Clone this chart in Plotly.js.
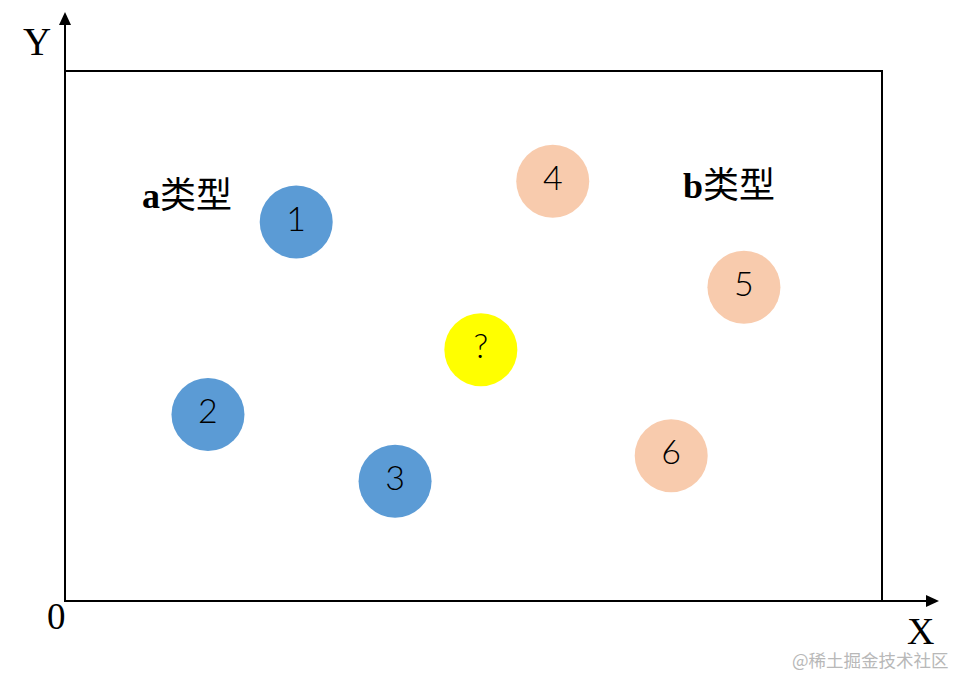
<!DOCTYPE html>
<html>
<head>
<meta charset="utf-8">
<script src="https://cdn.plot.ly/plotly-3.0.1.min.js"></script>
<style>html,body{margin:0;padding:0;background:#fff;}#chart{width:956px;height:676px;}</style>
</head>
<body>
<div id="chart"></div>
<script>
// Data (x, y on a 0-100 scale inside the frame)
var labelsA = ["1", "2", "3"];
var xA = [28.3, 17.5, 40.4];
var yA = [71.5, 35.2, 22.6];

var labelsB = ["4", "5", "6"];
var xB = [59.7, 83.1, 74.2];
var yB = [79.2, 59.2, 27.4];

var labelsQ = ["?"];
var xQ = [50.9];
var yQ = [47.4];

var groupNames = ["a类型", "b类型"];
var groupX = [14.9, 81.3];
var groupY = [76.4, 78.3];

var markerSize = 73;
var numFont = {family: "Lato, Liberation Sans, Arial, sans-serif", size: 34, color: "#000", weight: 300};

function scatter(x, y, t, color) {
  return {
    type: "scatter", mode: "markers+text", x: x, y: y, text: t,
    textposition: "middle center", textfont: numFont,
    marker: {size: markerSize, color: color, line: {width: 0}},
    hoverinfo: "skip", showlegend: false, cliponaxis: false
  };
}

var traces = [
  scatter(xA, yA, labelsA, "#5B9BD5"),
  scatter(xB, yB, labelsB, "#F8CBAD"),
  scatter(xQ, yQ, labelsQ, "#FFFF00")
];

function px2x(p) { return (p - 65) / 817; }
function py2y(p) { return (601 - p) / 530; }

var shapes = [
  {type: "rect", xref: "paper", yref: "paper", x0: 0, y0: 0, x1: 1, y1: 1, line: {color: "#000", width: 2}},
  {type: "line", xref: "paper", yref: "paper", x0: 0, y0: 0, x1: 0, y1: py2y(25), line: {color: "#000", width: 2}},
  {type: "line", xref: "paper", yref: "paper", x0: 0, y0: 0, x1: px2x(926), y1: 0, line: {color: "#000", width: 2}},
  {type: "path", xref: "paper", yref: "paper",
   path: "M " + px2x(59) + " " + py2y(25) + " L " + px2x(71) + " " + py2y(25) + " L " + px2x(65) + " " + py2y(12) + " Z",
   fillcolor: "#000", line: {width: 0}},
  {type: "path", xref: "paper", yref: "paper",
   path: "M " + px2x(926) + " " + py2y(595) + " L " + px2x(926) + " " + py2y(607) + " L " + px2x(939) + " " + py2y(601) + " Z",
   fillcolor: "#000", line: {width: 0}}
];

var serif = "Liberation Serif, Times New Roman, serif";
function lbl(px, py, text, font) {
  return {xref: "paper", yref: "paper", x: px2x(px), y: py2y(py), xanchor: "center", yanchor: "middle",
          text: text, showarrow: false, font: font};
}
var annotations = [
  lbl(37, 42, "Y", {family: serif, size: 39, color: "#000"}),
  lbl(920, 631, "X", {family: serif, size: 38, color: "#000"}),
  lbl(56, 616, "0", {family: serif, size: 37, color: "#000"}),
  lbl(870, 659, "@稀土掘金技术社区", {family: "Noto Sans CJK SC, sans-serif", size: 17.5, color: "#b8b8b8"})
];
for (var i = 0; i < groupNames.length; i++) {
  var nm = groupNames[i];
  annotations.push({
    x: groupX[i], y: groupY[i], xref: "x", yref: "y", showarrow: false, xanchor: "center", yanchor: "middle",
    text: "<b>" + nm.charAt(0) + "</b>" + nm.slice(1),
    font: {family: "Liberation Serif, Noto Sans CJK SC, serif", size: 36, color: "#000"}
  });
}

var layout = {
  width: 956, height: 676,
  margin: {l: 65, r: 74, t: 71, b: 75, pad: 0},
  paper_bgcolor: "#fff", plot_bgcolor: "#fff",
  xaxis: {range: [0, 100], showgrid: false, zeroline: false, showticklabels: false, ticks: "", showline: false, fixedrange: true},
  yaxis: {range: [0, 100], showgrid: false, zeroline: false, showticklabels: false, ticks: "", showline: false, fixedrange: true},
  shapes: shapes,
  annotations: annotations,
  showlegend: false
};

Plotly.newPlot("chart", traces, layout, {displayModeBar: false, staticPlot: true});
</script>
</body>
</html>
